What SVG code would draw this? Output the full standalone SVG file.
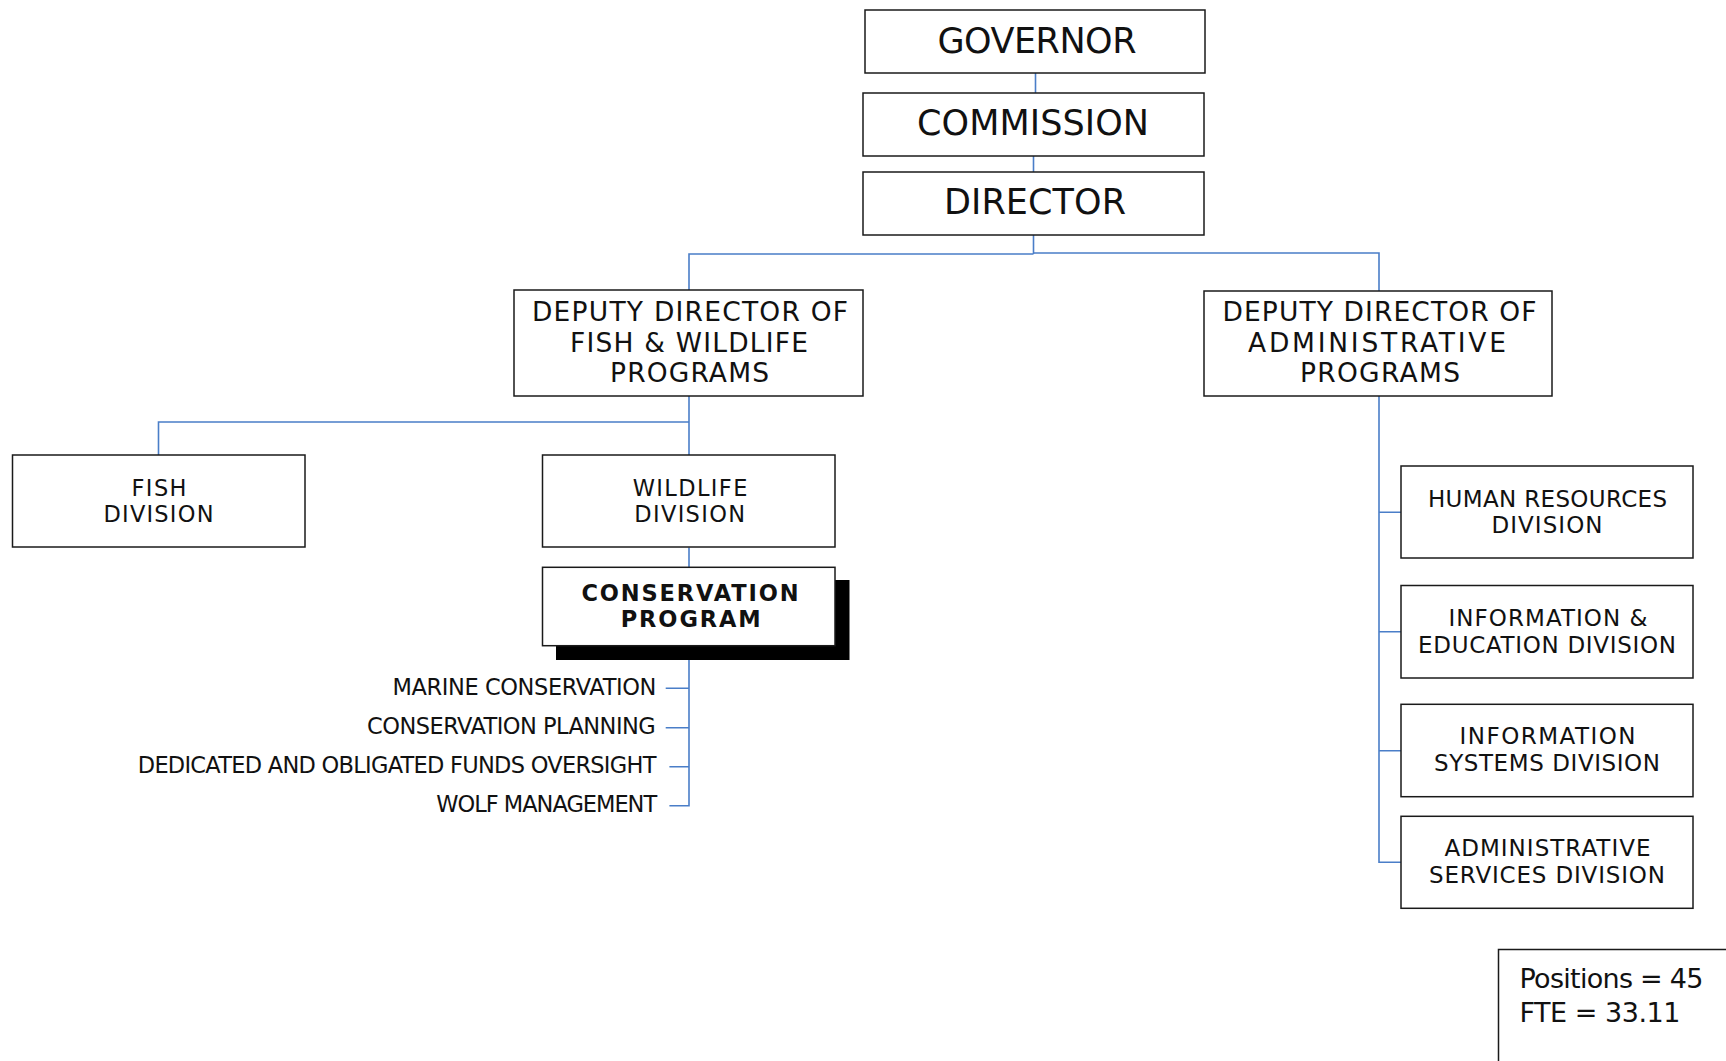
<svg xmlns="http://www.w3.org/2000/svg" width="1726" height="1061" viewBox="0 0 1726 1061">
<style>
.box{fill:#fff;stroke:#1a1a1a;stroke-width:1.5}
.shadow{fill:#000}
.t{font-family:"DejaVu Sans","Liberation Sans",sans-serif;fill:#111;text-anchor:middle}
.big{font-size:35px}
.dep{font-size:26.5px}
.div{font-size:22.5px}
.rdiv{font-size:23px}
.bold{font-size:22.5px;font-weight:bold}
.lbl{font-family:"DejaVu Sans","Liberation Sans",sans-serif;fill:#111;font-size:22.5px;text-anchor:end}
.note{font-family:"DejaVu Sans","Liberation Sans",sans-serif;fill:#111;font-size:27px}
.con{fill:none;stroke:#4a7ec8;stroke-width:1.6}
</style>
<rect width="1726" height="1061" fill="#fff"/>
<g id="connectors">
<path class="con" d="M1035.5 73V93"/>
<path class="con" d="M1033.5 156V172"/>
<path class="con" d="M1033.5 235V254"/>
<path class="con" d="M689 290V254H1033.5"/>
<path class="con" d="M1033.5 253H1379V291"/>
<path class="con" d="M689 396V455"/>
<path class="con" d="M158.5 455V422H689"/>
<path class="con" d="M689 547.5V567"/>
<path class="con" d="M689 646V805.7H669.4"/>
<path class="con" d="M665.7 688.3H689M665.7 727.7H689M669.4 766.7H689"/>
<path class="con" d="M1379 396V862.3H1401"/>
<path class="con" d="M1379 512.3H1401M1379 631.7H1401M1379 750.7H1401"/>
</g>
<g id="governor">
<rect class="box" x="865" y="10" width="340" height="63"/>
<text class="t big" x="1037" y="52.5" textLength="199">GOVERNOR</text>
</g>
<g id="commission">
<rect class="box" x="863" y="93" width="341" height="63"/>
<text class="t big" x="1033" y="134.5" textLength="232">COMMISSION</text>
</g>
<g id="director">
<rect class="box" x="863" y="172" width="341" height="63"/>
<text class="t big" x="1035" y="214" textLength="182">DIRECTOR</text>
</g>
<g id="deputy-fw">
<rect class="box" x="514" y="290" width="349" height="106"/>
<text class="t dep" x="690" y="320.8" textLength="316">DEPUTY DIRECTOR OF</text>
<text class="t dep" x="689" y="351.6" textLength="238">FISH &amp; WILDLIFE</text>
<text class="t dep" x="689.5" y="382" textLength="159">PROGRAMS</text>
</g>
<g id="deputy-admin">
<rect class="box" x="1204" y="291" width="348" height="105"/>
<text class="t dep" x="1379.5" y="320.8" textLength="314">DEPUTY DIRECTOR OF</text>
<text class="t dep" x="1377" y="351.6" textLength="258">ADMINISTRATIVE</text>
<text class="t dep" x="1380" y="382" textLength="160">PROGRAMS</text>
</g>
<g id="fish-division">
<rect class="box" x="12.5" y="455" width="292.5" height="92"/>
<text class="t div" x="159" y="495.5" textLength="55">FISH</text>
<text class="t div" x="158.5" y="521.8" textLength="110">DIVISION</text>
</g>
<g id="wildlife-division">
<rect class="box" x="542.5" y="455" width="292.5" height="92"/>
<text class="t div" x="690" y="495.5" textLength="114.7">WILDLIFE</text>
<text class="t div" x="689.7" y="521.5" textLength="110.7">DIVISION</text>
</g>
<g id="conservation-program">
<rect class="shadow" x="556" y="580" width="293.5" height="80"/>
<rect class="box" x="542.5" y="567.3" width="292.5" height="78.4"/>
<text class="t bold" x="690" y="601" textLength="217">CONSERVATION</text>
<text class="t bold" x="690.7" y="627.3" textLength="140">PROGRAM</text>
</g>
<g id="conservation-units">
<text class="lbl" x="656.4" y="694.5" textLength="264">MARINE CONSERVATION</text>
<text class="lbl" x="655.7" y="733.8" textLength="288.6">CONSERVATION PLANNING</text>
<text class="lbl" x="656.4" y="773.2" textLength="518.6">DEDICATED AND OBLIGATED FUNDS OVERSIGHT</text>
<text class="lbl" x="657.2" y="812.4" textLength="221">WOLF MANAGEMENT</text>
</g>
<g id="hr-division">
<rect class="box" x="1401" y="466" width="292" height="92"/>
<text class="t rdiv" x="1547.5" y="506.5" textLength="239">HUMAN RESOURCES</text>
<text class="t rdiv" x="1547" y="533" textLength="111">DIVISION</text>
</g>
<g id="ie-division">
<rect class="box" x="1401" y="585.5" width="292" height="92.5"/>
<text class="t rdiv" x="1548" y="625.5" textLength="199">INFORMATION &amp;</text>
<text class="t rdiv" x="1547" y="652.5" textLength="258">EDUCATION DIVISION</text>
</g>
<g id="is-division">
<rect class="box" x="1401" y="704.3" width="292" height="92.4"/>
<text class="t rdiv" x="1547.5" y="744" textLength="176">INFORMATION</text>
<text class="t rdiv" x="1547" y="770.5" textLength="226">SYSTEMS DIVISION</text>
</g>
<g id="as-division">
<rect class="box" x="1401" y="816.3" width="292" height="92"/>
<text class="t rdiv" x="1547.5" y="856" textLength="206">ADMINISTRATIVE</text>
<text class="t rdiv" x="1547" y="882.5" textLength="236">SERVICES DIVISION</text>
</g>
<g id="positions-note">
<rect class="box" x="1498.5" y="949.5" width="240" height="130"/>
<text class="note" x="1519.5" y="988" textLength="184">Positions = 45</text>
<text class="note" x="1519.5" y="1022" textLength="161">FTE = 33.11</text>
</g>
</svg>
